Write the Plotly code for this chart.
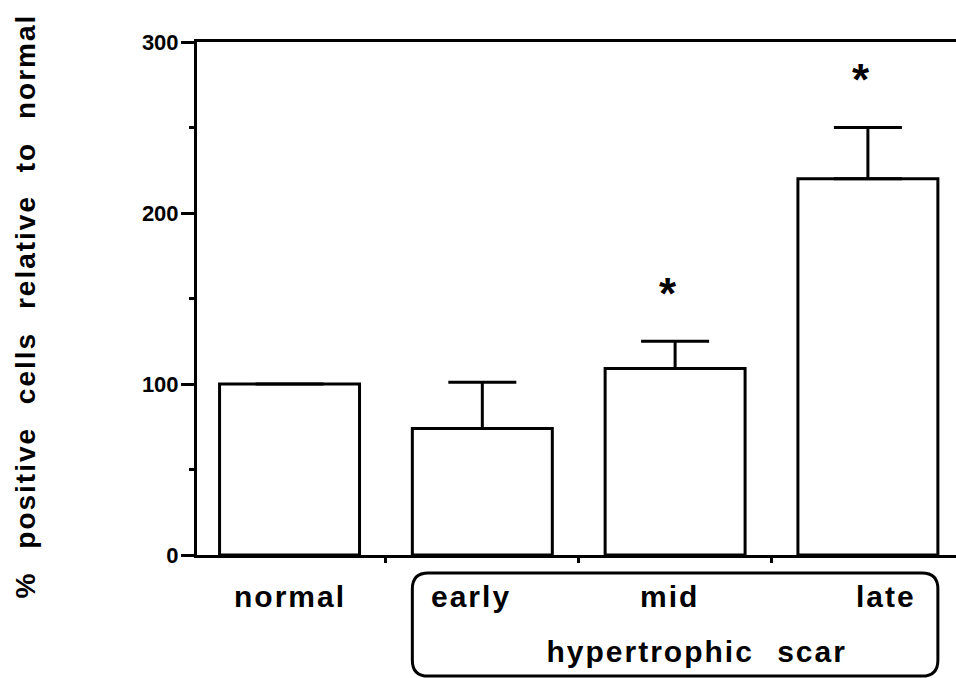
import plotly.graph_objects as go

# Data
groups = ["normal", "early", "mid", "late"]
values = [100, 74, 109, 220]
errors_up = [None, 27, 16, 30]
significant = [False, False, True, True]
y_ticks = [0, 100, 200, 300]
y_minor = [50, 150, 250]
y_title = "% positive cells relative to normal"
bracket_label = "hypertrophic scar"

# Style
FONT = "Liberation Sans"
BAR_W = 0.726
LINE = 3
label_xshift = [0, -11, -6, 18]
star_gap = 31

x = list(range(len(groups)))

fig = go.Figure()
fig.add_trace(go.Bar(
    x=x, y=values, width=BAR_W,
    marker=dict(color="white", line=dict(color="black", width=LINE)),
    error_y=dict(type="data", symmetric=False,
                 array=errors_up, arrayminus=[0] * len(values),
                 color="black", thickness=LINE, width=34),
    showlegend=False, hoverinfo="skip",
))

annotations = []
# category labels under the axis
for xi, name, dx in zip(x, groups, label_xshift):
    annotations.append(dict(
        x=xi, y=0, xref="x", yref="paper", text=name, showarrow=False,
        xanchor="center", yanchor="middle", xshift=dx, yshift=-41,
        font=dict(family=FONT, size=30, color="black", weight="bold"),
    ))
# bracket caption
annotations.append(dict(
    x=2, y=0, xref="x", yref="paper", text=bracket_label, showarrow=False,
    xanchor="center", yanchor="middle", xshift=22, yshift=-96,
    font=dict(family=FONT, size=30, color="black", weight="bold"),
))
# significance marks
for xi, v, e, sig in zip(x, values, errors_up, significant):
    if sig:
        annotations.append(dict(
            x=xi, y=v + (e or 0) + star_gap, xref="x", yref="y", text="*",
            showarrow=False, xanchor="center", yanchor="middle",
            xshift=-6, yshift=-5,
            font=dict(family=FONT, size=44, color="black", weight="bold"),
        ))
# y-axis title
annotations.append(dict(
    x=-0.227, y=0.485, xref="paper", yref="paper", text=y_title,
    showarrow=False, textangle=-90, xanchor="center", yanchor="middle",
    font=dict(family=FONT, size=28, color="black", weight="bold"),
))

# rounded bracket around the hypertrophic scar groups
x0, x1 = 1 - BAR_W / 2, 3 + BAR_W / 2
y_top, y_bot = -0.035, -0.236
rx, ry = 0.083, 0.031
path = (
    f"M {x0 + rx},{y_top} L {x1 - rx},{y_top} Q {x1},{y_top} {x1},{y_top - ry} "
    f"L {x1},{y_bot + ry} Q {x1},{y_bot} {x1 - rx},{y_bot} "
    f"L {x0 + rx},{y_bot} Q {x0},{y_bot} {x0},{y_bot + ry} "
    f"L {x0},{y_top - ry} Q {x0},{y_top} {x0 + rx},{y_top} Z"
)

fig.update_layout(
    width=956, height=678,
    margin=dict(l=197, r=0, t=42, b=123),
    plot_bgcolor="white", paper_bgcolor="white",
    font=dict(family=FONT, color="black"),
    annotations=annotations,
    shapes=[dict(type="path", path=path, xref="x", yref="paper",
                 line=dict(color="black", width=LINE))],
    xaxis=dict(
        range=[-0.48, 3.457], showgrid=False, zeroline=False,
        showline=True, linecolor="black", linewidth=LINE, mirror=True,
        tickvals=[], ticks="",
        minor=dict(tickvals=[0.5, 1.5, 2.5], ticks="outside", ticklen=5,
                   tickwidth=LINE, tickcolor="black"),
    ),
    yaxis=dict(
        range=[0, 300], showgrid=False, zeroline=False,
        showline=True, linecolor="black", linewidth=LINE,
        tickvals=y_ticks, ticks="outside", ticklen=13, tickwidth=LINE,
        tickcolor="black", ticklabelstandoff=-2,
        tickfont=dict(family=FONT, size=22, color="black", weight="bold"),
        minor=dict(tickvals=y_minor, ticks="outside", ticklen=5,
                   tickwidth=LINE, tickcolor="black"),
    ),
)

spacing_css = """
var s = document.createElement('style');
s.textContent = '.annotation-text { letter-spacing: 2px; word-spacing: 13px; }';
document.head.appendChild(s);
"""

fig.write_html("out.html", post_script=spacing_css)
